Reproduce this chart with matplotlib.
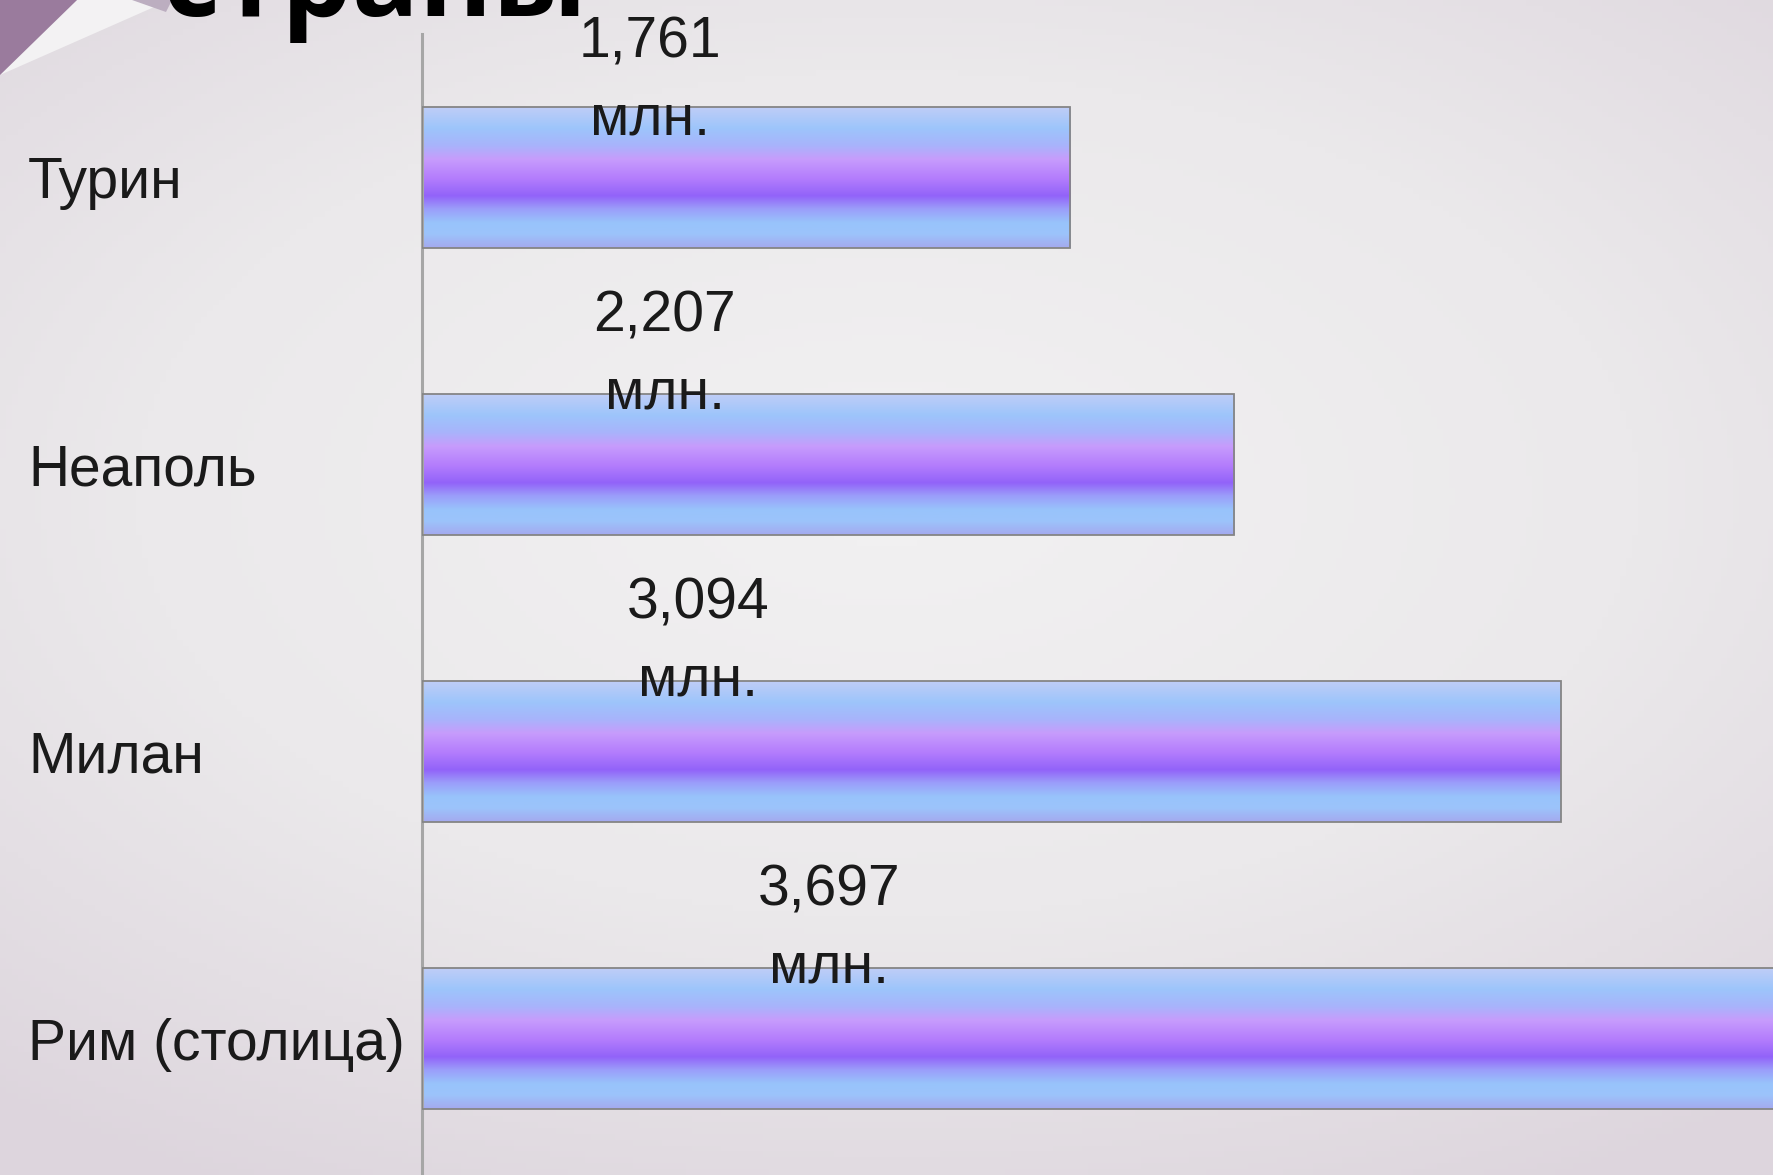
import numpy as np
import matplotlib
matplotlib.use("Agg")
import matplotlib.pyplot as plt
from matplotlib.colors import LinearSegmentedColormap
from matplotlib.patches import Polygon

cities = ["Рим (столица)", "Милан", "Неаполь", "Турин"]
population = [3.697, 3.094, 2.207, 1.761]   # млн. жителей
unit = "млн."
title = "страны"

# where the value labels sit (x centre in data units, height above bar centre)
label_x = [1.106, 0.75, 0.66, 0.62]
label_dy = [0.38, 0.38, 0.38, 0.337]

font = "Liberation Sans"
W, H = 1774, 1175
fig = plt.figure(figsize=(W / 100, H / 100), dpi=100)

# slide background
bg = fig.add_axes([0, 0, 1, 1], zorder=-10)
yy, xx = np.mgrid[0:1:200j, 0:1:300j]
r = np.sqrt(((xx - 0.5) / 1.0) ** 2 + ((yy - 0.42) / 0.85) ** 2)
bg_cmap = LinearSegmentedColormap.from_list("bg", ["#f1f0f1", "#ebe9eb", "#ddd5dd"])
bg.imshow(r, cmap=bg_cmap, aspect="auto", extent=[0, 1, 0, 1], origin="upper", vmin=0.05, vmax=0.8)
bg.set_axis_off()

# page-curl corner
def px(x, y):
    return (x / W, 1 - y / H)

fig.patches.append(Polygon([px(77, 0), px(170, 0), px(0, 75)], closed=True,
                           transform=fig.transFigure, facecolor="#f3f2f3", edgecolor="none"))
fig.patches.append(Polygon([px(132, 0), px(172, 0), px(166, 12)], closed=True,
                           transform=fig.transFigure, facecolor="#bcaec0", edgecolor="none"))
fig.patches.append(Polygon([px(0, 0), px(77, 0), px(0, 75)], closed=True,
                           transform=fig.transFigure, facecolor="#9a7b9d", edgecolor="none"))

fig.text(163 / W, 1 - 16 / H, title, fontsize=80, fontweight="bold", family="Open Sans",
         color="black", ha="left", va="baseline")

ax = fig.add_axes([422 / W, -7 / H, 1 - 422 / W, 1148 / H])
ax.patch.set_alpha(0)
ypos = np.arange(len(cities))
bars = ax.barh(ypos, population, height=0.49, facecolor="none",
               edgecolor="#858585", linewidth=1.3, zorder=3)

bar_cmap = LinearSegmentedColormap.from_list("bar", [
    (0.0, "#bfcdf7"), (0.15, "#9dc5fb"), (0.27, "#a8b4fb"), (0.37, "#c79cfc"),
    (0.5, "#b57efd"), (0.63, "#9263f9"), (0.72, "#9b9cfa"), (0.82, "#98c3fb"),
    (0.9, "#9cc4fb"), (1.0, "#a4a9ef")])
grad = np.linspace(0, 1, 256).reshape(-1, 1)
for b in bars:
    x0, y0, w, h = b.get_x(), b.get_y(), b.get_width(), b.get_height()
    ax.imshow(grad, cmap=bar_cmap, aspect="auto", origin="upper",
              extent=[x0, x0 + w, y0, y0 + h], zorder=2)

for i, v in enumerate(population):
    ax.text(label_x[i], ypos[i] + label_dy[i],
            f"{v:.3f}".replace(".", ",") + "\n" + unit,
            ha="center", va="center", fontsize=41, family=font,
            color="#1a1a1a", linespacing=1.55, zorder=4)

ax.set_xlim(0, 3.674)
ax.set_ylim(-0.5, 3.5)
ax.set_yticks(ypos)
ax.set_yticklabels(cities, ha="left", fontsize=41, family=font, color="#1a1a1a")
ax.tick_params(axis="y", length=0, pad=(422 - 28) * 0.72)
ax.set_xticks([])
for s in ["top", "right", "bottom"]:
    ax.spines[s].set_visible(False)
ax.spines["left"].set_color("#a6a6a6")
ax.spines["left"].set_linewidth(2.2)

fig.savefig("out.png", dpi=100)
